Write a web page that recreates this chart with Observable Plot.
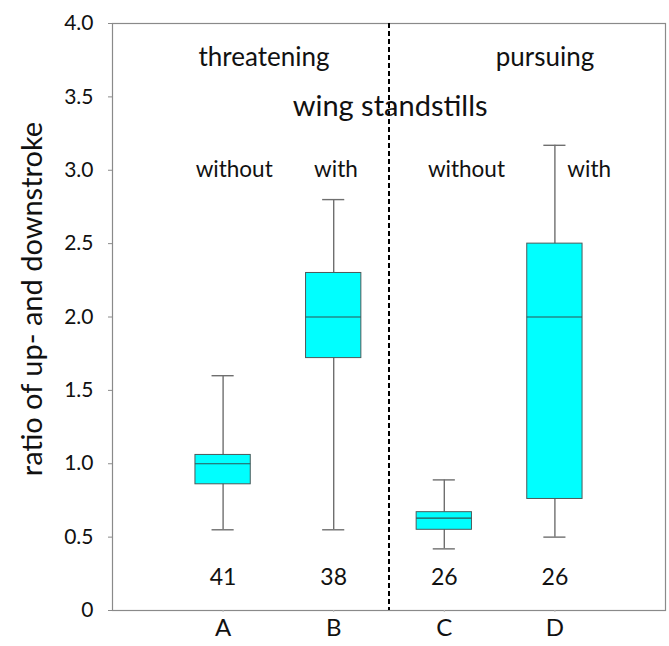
<!DOCTYPE html>
<html>
<head>
<meta charset="utf-8">
<script src="https://cdn.jsdelivr.net/npm/d3@7"></script>
<script src="https://cdn.jsdelivr.net/npm/@observablehq/plot@0.6"></script>
<style>
  html, body { margin: 0; padding: 0; background: #fff; }
  #chart svg { display: block; }
</style>
</head>
<body>
<div id="chart"></div>
<script>
// ---- data ----
const groups = ["A", "B", "C", "D"];
const whiskerLow  = [0.55, 0.55, 0.42, 0.50];
const q1          = [0.86, 1.72, 0.55, 0.76];
const median      = [1.00, 2.00, 0.63, 2.00];
const q3          = [1.06, 2.30, 0.67, 2.50];
const whiskerHigh = [1.60, 2.80, 0.89, 3.17];
const counts      = [41, 38, 26, 26];
const conditions  = ["without", "with", "without", "with"];
const behaviours  = ["threatening", "pursuing"];
const groupTitle  = "wing standstills";
const yTitle      = "ratio of up- and downstroke";
const yTicks      = [0, 0.5, 1, 1.5, 2, 2.5, 3, 3.5, 4];

const idx = groups.map((_, i) => i);
const pos = i => i + 1;             // category position on the x scale
const font = "Lato, 'Open Sans', sans-serif";

const chart = Plot.plot({
  width: 669,
  height: 646,
  marginLeft: 112,
  marginRight: 4,
  marginTop: 23,
  marginBottom: 36,
  style: { fontFamily: font, background: "#fff", color: "#111" },
  x: { domain: [0, 5], axis: null },
  y: { domain: [0, 4], axis: null },
  marks: [
    Plot.frame({ stroke: "#8a8a8a", strokeWidth: 1.2 }),
    Plot.axisY({
      ticks: yTicks,
      tickFormat: d => d === 0 ? "0" : d.toFixed(1),
      tickSize: 4, tickPadding: 15, fontSize: 21,
      stroke: "#8a8a8a", label: null
    }),
    Plot.axisX({
      ticks: idx.map(pos),
      tickFormat: d => groups[d - 1],
      tickSize: 2, tickPadding: 6, fontSize: 24,
      stroke: "#bbb", label: null
    }),
    // whiskers
    Plot.ruleX(idx, { x: pos, y1: i => whiskerLow[i], y2: i => whiskerHigh[i], stroke: "#6f6f6f", strokeWidth: 1.4 }),
    Plot.ruleY(idx, { y: i => whiskerLow[i],  x1: i => pos(i) - 0.1, x2: i => pos(i) + 0.1, stroke: "#6f6f6f", strokeWidth: 1.4 }),
    Plot.ruleY(idx, { y: i => whiskerHigh[i], x1: i => pos(i) - 0.1, x2: i => pos(i) + 0.1, stroke: "#6f6f6f", strokeWidth: 1.4 }),
    // boxes
    Plot.rect(idx, { x1: i => pos(i) - 0.25, x2: i => pos(i) + 0.25, y1: i => q1[i], y2: i => q3[i], fill: "#00FFFF", stroke: "#4d5a5a", strokeWidth: 1 }),
    Plot.ruleY(idx, { y: i => median[i], x1: i => pos(i) - 0.25, x2: i => pos(i) + 0.25, stroke: "#2f5555", strokeWidth: 1.2 }),
    // separator
    Plot.ruleX([2.5], { stroke: "#000", strokeWidth: 2, strokeDasharray: "5,3" }),
    // annotations
    Plot.text(behaviours, { x: [1.37, 3.91], y: [3.77, 3.77], text: d => d, fontSize: 26 }),
    Plot.text([groupTitle], { x: [2.51], y: [3.43], text: d => d, fontSize: 29 }),
    Plot.text(conditions, { x: [1.1, 2.02, 3.2, 4.31], y: [3.0, 3.0, 3.0, 3.0], text: d => d, fontSize: 22.5 }),
    Plot.text(idx, { x: pos, y: () => 0.225, text: i => String(counts[i]), fontSize: 23 }),
    Plot.text([yTitle], { frameAnchor: "left", textAnchor: "middle", dx: -80, dy: -18, rotate: -90, text: d => d, fontSize: 29 })
  ]
});
document.getElementById("chart").append(chart);
</script>
</body>
</html>
